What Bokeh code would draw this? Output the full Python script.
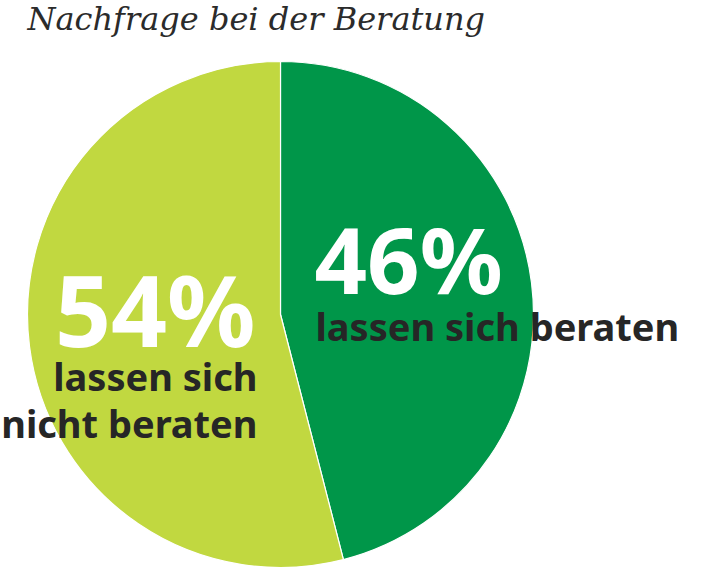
import numpy as np
from bokeh.plotting import figure
from bokeh.models import Range1d, ColumnDataSource
from bokeh.core.properties import value
from bokeh.embed import file_html
from bokeh.resources import INLINE

title = "Nachfrage bei der Beratung"
categories = ["lassen sich beraten", "lassen sich nicht beraten"]
values = [46, 54]
colors = ["#009649", "#C1D840"]

W, H = 718, 567
p = figure(width=W, height=H, output_backend="svg", toolbar_location=None,
           x_range=Range1d(0, W), y_range=Range1d(0, H), min_border=0)
p.axis.visible = False
p.grid.visible = False
p.outline_line_color = None
p.background_fill_color = "white"
p.border_fill_color = "white"

cx, cy, r = 280, H - 314, 253
vals = np.array(values, dtype=float)
frac = vals / vals.sum()
ends = np.pi / 2 - 2 * np.pi * np.concatenate([[0], np.cumsum(frac)[:-1]])
starts = ends - 2 * np.pi * frac
src = ColumnDataSource(dict(start=starts, end=ends, color=colors, cat=categories))
p.wedge(x=cx, y=cy, radius=r, start_angle="start", end_angle="end",
        fill_color="color", line_color="white", line_width=1.2, source=src)

font = value("Noto Sans")

def label(x, ys, txt, size, color, align, fnt=font, style="bold"):
    p.text(x=[x] * len(txt), y=[H - yy + 0.33 * size for yy in ys],
           text=txt, text_font=fnt, text_font_style=style,
           text_font_size=f"{size}px", text_color=color,
           text_baseline="alphabetic", text_align=align)

# title
label(27, [29], [title], 32, "#2b2b2b", "left", fnt=value("DejaVu Serif"), style="italic")

# right label (46%)
label(314, [288], [f"{values[0]}%"], 92, "white", "left")
label(315, [338], [categories[0]], 38, "#262626", "left")

# left label (54%)
label(255, [341], [f"{values[1]}%"], 98, "white", "right")
label(257, [388, 435], ["lassen sich", "nicht beraten"], 38, "#262626", "right")

open("out.html", "w").write(file_html(p, INLINE))
